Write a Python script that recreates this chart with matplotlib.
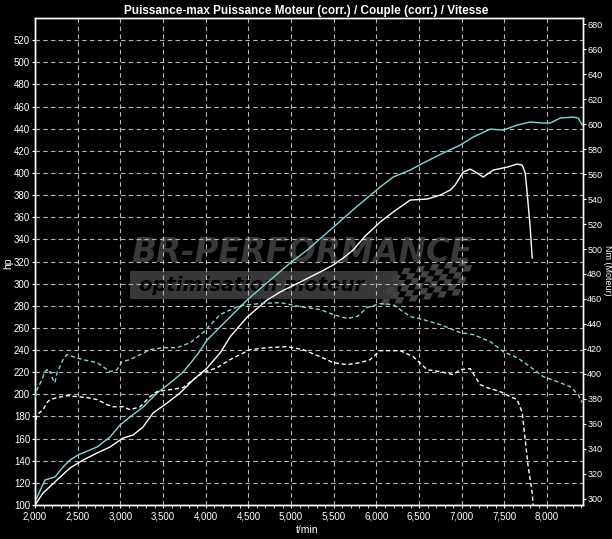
import matplotlib
matplotlib.use("Agg")
import matplotlib.pyplot as plt
import matplotlib.ticker as mticker
from matplotlib.patches import Rectangle, Polygon

# ─────────────────────────────────────────────────────────────────────────────
# Data
# ─────────────────────────────────────────────────────────────────────────────

# cyan solid: power (hp)
pw_cyan_rpm = [2000, 2117, 2234, 2328, 2410, 2504, 2727, 2879, 2996, 3113, 3266,
               3430, 3582, 3735, 3899, 4016, 4168, 4485, 4754, 4989, 5188, 5457,
               5750, 6043, 6196, 6395, 6547, 6782, 6981, 7133, 7333, 7485, 7649,
               7801, 7954, 8036, 8153, 8306, 8364, 8411]
pw_cyan_hp = [103, 122.6, 125.3, 134.3, 140.6, 145.2, 152.4, 161.4, 172.3, 179.5,
              188.5, 201.2, 210.2, 220.1, 235.5, 249.0, 260.8, 285.2, 303.2, 318.6,
              330.3, 348.4, 368.3, 387.3, 396.3, 402.6, 408.9, 418.0, 425.2, 432.4,
              439.6, 438.7, 443.3, 446.0, 445.1, 445.1, 449.6, 450.5, 449.6, 443.3]

# white solid: power (hp)
pw_white_rpm = [2000, 2094, 2258, 2410, 2563, 2727, 2879, 3031, 3149, 3266, 3383,
                3547, 3699, 3852, 4016, 4168, 4285, 4485, 4719, 4871, 5106, 5340,
                5493, 5610, 5727, 5868, 6043, 6196, 6395, 6594, 6747, 6864, 6922,
                7016, 7098, 7180, 7251, 7368, 7532, 7649, 7708, 7743, 7766, 7801,
                7825]
pw_white_hp = [100, 110.8, 122.6, 133.4, 140.6, 147.0, 152.4, 160.5, 163.2, 170.5,
               183.1, 192.1, 201.2, 212.9, 223.8, 237.3, 251.8, 269.8, 285.2, 292.4,
               301.4, 310.5, 316.8, 323.1, 330.3, 343.0, 355.6, 364.7, 375.5, 376.4,
               380.0, 384.5, 389.1, 400.8, 403.5, 399.9, 396.3, 402.6, 405.3, 408.0,
               407.1, 399.9, 381.8, 351.1, 323.1]

# cyan dashed: torque (Nm)
tq_cyan_rpm = [2000, 2023, 2082, 2117, 2141, 2152, 2176, 2211, 2234, 2258, 2293,
               2328, 2375, 2445, 2563, 2727, 2879, 2961, 3020, 3113, 3231, 3348,
               3500, 3664, 3817, 3969, 4168, 4403, 4637, 4871, 5106, 5340, 5493,
               5657, 5774, 5891, 6043, 6196, 6395, 6547, 6747, 6981, 7133, 7333,
               7485, 7649, 7801, 7954, 8118, 8270, 8364, 8411]
tq_cyan_nm = [381, 387.4, 395.4, 401.8, 403.4, 401.0, 401.8, 395.4, 393.0, 401.0,
              405.8, 411.4, 415.4, 413.8, 411.4, 409.0, 401.8, 403.4, 409.8, 411.4,
              415.4, 419.4, 421.0, 421.0, 425.0, 433.0, 447.5, 454.7, 456.3, 457.1,
              453.9, 451.5, 447.5, 444.3, 445.9, 453.1, 456.3, 455.5, 445.9, 443.5,
              439.5, 433.1, 431.5, 425.9, 417.8, 413.0, 405.8, 397.8, 393.8, 389.8,
              383.4, 377.0]

# white dashed: torque (Nm)
tq_white_rpm = [2000, 2023, 2094, 2141, 2176, 2258, 2375, 2492, 2609, 2727, 2844,
                2914, 3031, 3113, 3231, 3348, 3430, 3582, 3735, 3852, 3969, 4133,
                4285, 4520, 4719, 4953, 5141, 5340, 5493, 5657, 5809, 5926, 6043,
                6278, 6430, 6594, 6747, 6899, 6981, 7098, 7215, 7297, 7450, 7567,
                7649, 7708, 7743, 7778, 7825, 7837]
tq_white_nm = [357.7, 367.3, 371.3, 377.0, 379.4, 381.0, 382.6, 381.8, 381.0, 379.4,
               375.4, 373.7, 373.7, 371.3, 373.7, 381.8, 385.8, 387.4, 389.0, 395.4,
               401.0, 405.0, 411.4, 419.4, 421.0, 421.8, 419.4, 413.8, 409.0, 407.4,
               409.0, 411.4, 418.6, 418.6, 413.8, 403.4, 401.8, 399.4, 403.4, 404.2,
               391.4, 389.0, 385.8, 381.8, 379.4, 368.9, 347.3, 325.7, 304.8, 294.0]

rpm_ticks = list(range(2000, 8001, 500))
hp_ticks = list(range(100, 521, 20))
nm_ticks = list(range(300, 681, 20))

TITLE = "Puissance-max Puissance Moteur (corr.) / Couple (corr.) / Vitesse"

CYAN = "#86d4d4"
GRID = "#b8b8b8"

plt.rcParams["font.family"] = ["Liberation Sans", "DejaVu Sans"]

fig = plt.figure(figsize=(6.12, 5.39), dpi=100, facecolor="black")
ax = fig.add_axes([35 / 612, 34 / 539, 548 / 612, 487 / 539], facecolor="black")
ax2 = ax.twinx()

# ── watermark ────────────────────────────────────────────────────────────────
ax.text(0.175, 0.518, "BR-PERFORMANCE", transform=ax.transAxes, color="#393939",
        fontsize=23.5, fontweight="bold", fontstyle="italic", family="DejaVu Sans",
        ha="left", va="center", zorder=1)
ax.add_patch(Rectangle((0.173, 0.422), 0.49, 0.058, transform=ax.transAxes,
                       facecolor="#373737", edgecolor="none", zorder=1))
ax.text(0.19, 0.451, "optimisation moteur", transform=ax.transAxes, color="black",
        fontsize=14, fontweight="bold", fontstyle="italic", family="DejaVu Sans",
        ha="left", va="center", zorder=1.5)
# checkered flag
sq = 0.013
for i in range(11):
    for j in range(6):
        if (i + j) % 2:
            continue
        x0 = 0.63 + i * sq + j * 0.005
        y0 = 0.41 + j * sq * 0.95 + i * 0.002
        ax.add_patch(Polygon([(x0, y0), (x0 + sq, y0), (x0 + sq + 0.005, y0 + sq),
                              (x0 + 0.005, y0 + sq)], closed=True,
                             transform=ax.transAxes, facecolor="#424242",
                             edgecolor="none", zorder=1))

# ── curves ───────────────────────────────────────────────────────────────────
ax.plot(pw_cyan_rpm, pw_cyan_hp, color=CYAN, lw=1.0, zorder=3)
ax.plot(pw_white_rpm, pw_white_hp, color="white", lw=1.0, zorder=3)
ax2.plot(tq_cyan_rpm, tq_cyan_nm, color=CYAN, lw=1.0, dashes=(3, 2), zorder=3)
ax2.plot(tq_white_rpm, tq_white_nm, color="white", lw=1.0, dashes=(3, 2), zorder=3)

ax.set_xlim(2000, 8420)
ax.set_ylim(100, 540)
ax2.set_ylim(295, 685)

ax.set_xticks(rpm_ticks)
ax.xaxis.set_major_formatter(mticker.FuncFormatter(lambda v, p: f"{int(v):,}"))
ax.xaxis.set_minor_locator(mticker.MultipleLocator(100))
ax.set_yticks(hp_ticks)
ax2.set_yticks(nm_ticks)

ax.grid(True, which="major", color=GRID, linestyle=(0, (4, 3)), linewidth=0.8, zorder=2)
ax.set_axisbelow(False)

for a in (ax, ax2):
    for s in a.spines.values():
        s.set_color("white")
        s.set_linewidth(1.0)
    a.tick_params(colors="white", labelsize=7, length=2.5, width=0.8, pad=1)
ax2.tick_params(labelsize=6.5, length=2, pad=1)
ax.tick_params(axis="x", which="minor", color="white", length=2, width=0.6)
ax.tick_params(axis="x", pad=2)

# axis titles placed in figure space so they stay inside the canvas
fig.text(8 / 612, 1 - 263 / 539, "hp", color="white", fontsize=7.5,
         rotation=90, ha="center", va="center")
fig.text(607.5 / 612, 1 - 270 / 539, "Nm (Moteur)", color="white", fontsize=6.5,
         rotation=270, ha="center", va="center")
fig.text(307 / 612, 1 - 530 / 539, "t/min", color="white", fontsize=7.5,
         ha="center", va="center")

fig.text(0.5, 0.99, TITLE, color="white", fontsize=8.5, fontweight="bold",
         ha="center", va="top")

fig.savefig("out.png", dpi=100, facecolor="black")
